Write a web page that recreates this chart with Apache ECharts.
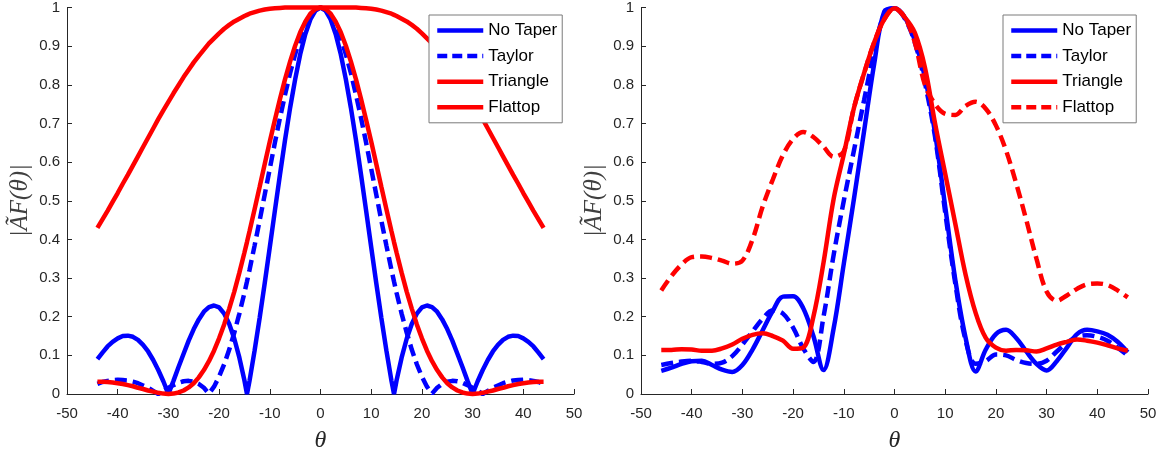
<!DOCTYPE html>
<html>
<head>
<meta charset="utf-8">
<script src="https://cdn.jsdelivr.net/npm/echarts/dist/echarts.min.js"></script>
<style>
  html, body { margin: 0; padding: 0; background: #ffffff; }
  #chart { width: 1167px; height: 458px; }
</style>
</head>
<body>
<div id="chart"></div>
<script>
// ---------------- Data ----------------
const seriesNames = ['No Taper', 'Taylor', 'Triangle', 'Flattop'];
const xTicks = [-50, -40, -30, -20, -10, 0, 10, 20, 30, 40, 50];
const yTicks = [0, 0.1, 0.2, 0.3, 0.4, 0.5, 0.6, 0.7, 0.8, 0.9, 1];

// Left panel
const leftTheta = [-44,-43,-42,-41,-40,-39,-38,-37,-36,-35,-34,-33,-32,-31,-30,-29,-28,-27,-26,-25,-24,-23,-22,-21,-20,-19,-18,-17,-16,-15,-14.5,
  -14,-13,-12,-11,-10,-9,-8,-7,-6,-5,-4,-3,-2,-1,0,1,2,3,4,5,6,7,8,9,10,11,12,13,14,
  14.5,15,16,17,18,19,20,21,22,23,24,25,26,27,28,29,30,31,32,33,34,35,36,37,38,39,40,41,42,43,44];

const noTaperLeft = [0.090,0.107,0.123,0.135,0.144,0.150,0.151,0.148,0.140,0.127,0.110,0.088,0.062,0.033,0.000,0.034,0.070,0.104,0.138,0.168,0.193,0.213,0.225,0.229,0.224,0.208,0.181,0.143,0.094,0.035,0.000,
  0.034,0.112,0.197,0.287,0.380,0.474,0.567,0.657,0.740,0.814,0.879,0.931,0.969,0.992,1.000,0.992,0.969,0.931,0.879,0.814,0.740,0.657,0.567,0.474,0.380,0.287,0.197,0.112,0.034,
  0.000,0.035,0.094,0.143,0.181,0.208,0.224,0.229,0.225,0.213,0.193,0.168,0.138,0.104,0.070,0.034,0.000,0.033,0.062,0.088,0.110,0.127,0.140,0.148,0.151,0.150,0.144,0.135,0.123,0.107,0.090];

const taylorLeft = [0.026,0.031,0.034,0.036,0.037,0.036,0.035,0.032,0.028,0.022,0.016,0.008,0.000,0.008,0.016,0.023,0.029,0.033,0.034,0.032,0.026,0.016,0.001,0.019,0.045,0.077,0.115,0.159,0.208,0.262,0.291,
  0.321,0.384,0.449,0.516,0.583,0.650,0.714,0.774,0.830,0.879,0.921,0.955,0.980,0.995,1.000,0.995,0.980,0.955,0.921,0.879,0.830,0.774,0.714,0.650,0.583,0.516,0.449,0.384,0.321,
  0.291,0.262,0.208,0.159,0.115,0.077,0.045,0.019,0.001,0.016,0.026,0.032,0.034,0.033,0.029,0.023,0.016,0.008,0.000,0.008,0.016,0.022,0.028,0.032,0.035,0.036,0.037,0.036,0.034,0.031,0.026];

const triangleLeft = [0.032,0.032,0.031,0.030,0.028,0.026,0.023,0.020,0.016,0.013,0.009,0.006,0.003,0.001,0.000,0.001,0.004,0.009,0.017,0.028,0.043,0.062,0.085,0.112,0.144,0.180,0.221,0.265,0.314,0.366,0.393,
  0.421,0.478,0.536,0.595,0.653,0.709,0.763,0.814,0.860,0.901,0.936,0.963,0.984,0.996,1.000,0.996,0.984,0.963,0.936,0.901,0.860,0.814,0.763,0.709,0.653,0.595,0.536,0.478,0.421,
  0.393,0.366,0.314,0.265,0.221,0.180,0.144,0.112,0.085,0.062,0.043,0.028,0.017,0.009,0.004,0.001,0.000,0.001,0.003,0.006,0.009,0.013,0.016,0.020,0.023,0.026,0.028,0.030,0.031,0.032,0.032];

const flattopLeft = [0.430,0.452,0.474,0.497,0.520,0.544,0.567,0.591,0.615,0.639,0.663,0.687,0.711,0.734,0.756,0.778,0.799,0.820,0.839,0.858,0.875,0.891,0.907,0.920,0.933,0.945,0.955,0.964,0.971,0.978,0.981,
  0.984,0.988,0.992,0.995,0.997,0.998,0.999,1.000,1.000,1.000,1.000,1.000,1.000,1.000,1.000,1.000,1.000,1.000,1.000,1.000,1.000,1.000,0.999,0.998,0.997,0.995,0.992,0.988,0.984,
  0.981,0.978,0.971,0.964,0.955,0.945,0.933,0.920,0.907,0.891,0.875,0.858,0.839,0.820,0.799,0.778,0.756,0.734,0.711,0.687,0.663,0.639,0.615,0.591,0.567,0.544,0.520,0.497,0.474,0.452,0.430];

// Right panel
const rightTheta = [-46,-44,-42,-40,-38,-36,-34,-32,-30,-28,-26,-24,-22,-20,-18,-16,-14,-12,-10,-8,-6,-4,-2,0,
  2,4,6,8,10,12,14,16,18,20,22,24,26,28,30,32,34,36,38,40,42,44,46];

const noTaperRight = [0.060,0.068,0.078,0.085,0.086,0.075,0.063,0.057,0.075,0.115,0.165,0.215,0.252,0.253,0.222,0.150,0.062,0.170,0.337,0.505,0.680,0.855,0.990,0.998,
  0.975,0.915,0.820,0.675,0.485,0.295,0.147,0.058,0.115,0.155,0.166,0.145,0.110,0.078,0.061,0.085,0.120,0.155,0.166,0.162,0.153,0.135,0.108];

const taylorRight = [0.075,0.080,0.084,0.086,0.083,0.078,0.081,0.098,0.128,0.162,0.195,0.217,0.208,0.172,0.118,0.083,0.200,0.360,0.500,0.630,0.760,0.887,0.983,0.998,
  0.972,0.910,0.805,0.665,0.470,0.285,0.140,0.078,0.085,0.102,0.100,0.088,0.080,0.078,0.086,0.110,0.132,0.148,0.152,0.148,0.138,0.120,0.100];

const triangleRight = [0.114,0.114,0.116,0.115,0.112,0.112,0.118,0.128,0.143,0.153,0.157,0.150,0.138,0.117,0.120,0.200,0.340,0.505,0.620,0.740,0.830,0.910,0.970,0.998,
  0.975,0.935,0.845,0.700,0.570,0.440,0.310,0.210,0.145,0.120,0.112,0.114,0.113,0.110,0.118,0.128,0.135,0.141,0.138,0.133,0.126,0.118,0.112];

const flattopRight = [0.268,0.305,0.335,0.354,0.356,0.352,0.345,0.337,0.345,0.400,0.485,0.555,0.618,0.660,0.678,0.665,0.640,0.614,0.628,0.740,0.830,0.910,0.970,0.998,
  0.975,0.910,0.800,0.750,0.725,0.722,0.745,0.756,0.738,0.695,0.630,0.545,0.450,0.350,0.265,0.241,0.255,0.272,0.284,0.286,0.282,0.268,0.250];

// ---------------- Chart ----------------
const BLUE = '#0000ff', RED = '#ff0000', AXIS = '#262626';
const DASH = [12, 6];
const LW = 4.5;

function pairs(xs, ys) { return xs.map((t, i) => [t, ys[i]]); }

function mkSeries(name, idx, xs, ys, color, dashed, smooth) {
  return {
    type: 'line', name: name, xAxisIndex: idx, yAxisIndex: idx,
    data: pairs(xs, ys), symbol: 'none', showSymbol: false,
    smooth: smooth, clip: false, animation: false,
    lineStyle: { color: color, width: LW, type: dashed ? DASH : 'solid', cap: 'butt' },
    itemStyle: { color: color }, emphasis: { disabled: true }
  };
}

function mkX(idx) {
  return {
    gridIndex: idx, type: 'value', min: xTicks[0], max: xTicks[xTicks.length - 1], interval: 10,
    name: 'θ', nameLocation: 'middle', nameGap: 35,
    nameTextStyle: { fontFamily: 'Liberation Serif', fontStyle: 'italic', fontSize: 24, color: AXIS },
    axisLine: { show: true, onZero: false, lineStyle: { color: AXIS, width: 1 } },
    axisTick: { show: true, inside: true, length: 5, lineStyle: { color: AXIS, width: 1 } },
    axisLabel: { color: AXIS, fontFamily: 'Liberation Sans', fontSize: 15, margin: 12 },
    splitLine: { show: false }
  };
}
function mkY(idx) {
  return {
    gridIndex: idx, type: 'value', min: yTicks[0], max: yTicks[yTicks.length - 1], interval: 0.1,
    name: '|ÃF(θ)|', nameLocation: 'middle', nameGap: 34,
    nameTextStyle: { fontFamily: 'Liberation Serif', fontStyle: 'italic', fontSize: 25, color: '#404040' },
    axisLine: { show: true, onZero: false, lineStyle: { color: AXIS, width: 1 } },
    axisTick: { show: true, inside: true, length: 5, lineStyle: { color: AXIS, width: 1 } },
    axisLabel: { color: AXIS, fontFamily: 'Liberation Sans', fontSize: 15, margin: 7,
      formatter: v => String(Math.round(v * 10) / 10) },
    splitLine: { show: false }
  };
}

function mkLegend(left, flattopDashed) {
  const styles = [
    { c: BLUE, d: false }, { c: BLUE, d: true }, { c: RED, d: false }, { c: RED, d: flattopDashed }
  ];
  return {
    orient: 'vertical', left: left, top: 15,
    padding: [7, 5, 7, 6], itemWidth: 46, itemHeight: 14, itemGap: 8.6,
    backgroundColor: '#ffffff', borderColor: '#7a7a7a', borderWidth: 1, borderRadius: 0,
    textStyle: { color: '#000000', fontFamily: 'Liberation Sans', fontSize: 17 },
    selectedMode: false,
    data: seriesNames.map((n, i) => ({
      name: n,
      lineStyle: { color: styles[i].c, width: LW, type: styles[i].d ? [10, 5] : 'solid' },
      itemStyle: { color: 'rgba(0,0,0,0)', opacity: 0, borderWidth: 0 }
    }))
  };
}

const chart = echarts.init(document.getElementById('chart'), null, { renderer: 'canvas' });
chart.setOption({
  animation: false,
  backgroundColor: '#ffffff',
  grid: [
    { left: 67, top: 3, width: 507, height: 398, containLabel: false },
    { left: 641, top: 3, width: 507, height: 398, containLabel: false }
  ],
  xAxis: [mkX(0), mkX(1)],
  yAxis: [mkY(0), mkY(1)],
  legend: [mkLegend(429, false), mkLegend(1003, true)],
  series: [
    mkSeries(seriesNames[0], 0, leftTheta, noTaperLeft, BLUE, false, false),
    mkSeries(seriesNames[1], 0, leftTheta, taylorLeft, BLUE, true, false),
    mkSeries(seriesNames[2], 0, leftTheta, triangleLeft, RED, false, false),
    mkSeries(seriesNames[3], 0, leftTheta, flattopLeft, RED, false, false),
    mkSeries(seriesNames[0], 1, rightTheta, noTaperRight, BLUE, false, 0.35),
    mkSeries(seriesNames[1], 1, rightTheta, taylorRight, BLUE, true, 0.35),
    mkSeries(seriesNames[2], 1, rightTheta, triangleRight, RED, false, 0.35),
    mkSeries(seriesNames[3], 1, rightTheta, flattopRight, RED, true, 0.35)
  ]
});
</script>
</body>
</html>
